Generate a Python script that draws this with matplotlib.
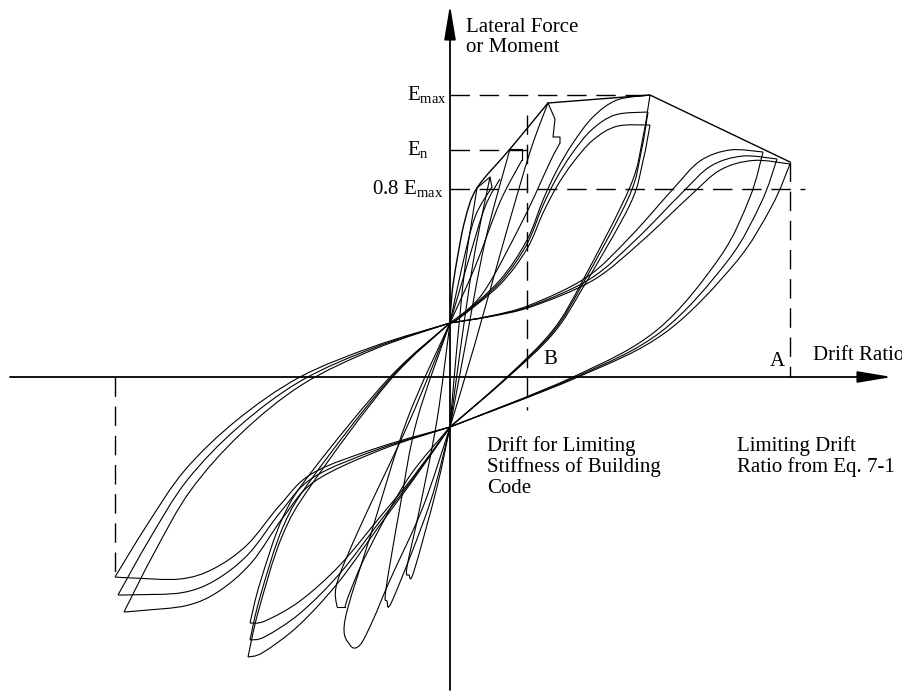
import numpy as np
import matplotlib.pyplot as plt
from matplotlib.path import Path
from matplotlib.patches import PathPatch

plt.rcParams['font.family'] = ['Liberation Serif', 'DejaVu Serif']
plt.rcParams['mathtext.fontset'] = 'custom'
plt.rcParams['mathtext.rm'] = 'Liberation Serif'

# reference levels (schematic units, origin at the axis crossing)
e_max = 282
e_n = 227
e_08 = 188
drift_b = 77
drift_a = 340
drift_neg = -335

# pinch points on the force axis
pinch_up = (0, 54)
pinch_low = (0, -50)

# large cycles up to limiting drift A (branches listed from the pinch to the peak)
big_pos_lower = [(0, -50), (123, 0), (207, 47), (270, 120), (300, 180), (313, 225)]
big_pos_upper = [(0, 54), (40, 61), (80, 72), (137, 100), (180, 140), (223, 188), (250, 216), (280, 227), (313, 225)]
big_neg_upper = [(0, 54), (-75, 31), (-150, 0), (-213, -43), (-265, -93), (-303, -148), (-335, -200)]
big_neg_lower = [(0, -50), (-70, -70), (-137, -96), (-170, -128), (-203, -168), (-237, -192),
                 (-270, -202), (-317, -201), (-335, -200)]
big_pos_copies = [(0, 0), (14, -7), (27, -12)]
big_neg_copies = [(0, 0), (3, -18), (9, -35)]

# medium cycles up to E_max
mid_pos_lower = [(0, -50), (57, 0), (103, 47), (133, 97), (180, 190), (193, 240), (200, 282)]
mid_pos_upper = [(0, 54), (10, 60), (50, 97), (77, 137), (93, 177), (107, 207), (123, 234), (143, 260),
                 (167, 277), (200, 282)]
mid_neg_upper = [(0, 54), (-60, 0), (-137, -93), (-167, -140), (-190, -206), (-200, -246)]
mid_neg_lower = [(0, -50), (-37, -100), (-70, -140), (-110, -188), (-150, -224), (-185, -244), (-200, -246)]
mid_pos_copies = [(0, 0), (-2, -17), (0, -30)]
mid_neg_copies = [(0, 0), (0, -17), (-2, -34)]

# envelope
backbone = [(0, 54), (2, 84), (7, 117), (15, 157), (27, 189), (60, 228), (98, 274)]
envelope = [(98, 274), (200, 282), (340, 215)]

# small positive cycles
small_pos_lower = [
    [(0, -50), (6, 20), (15, 110), (27, 189)],
    [(0, -50), (10, 25), (24, 120), (40, 200)],
    [(0, -50), (15, 30), (35, 135), (60, 228)],
    [(0, -50), (24, 30), (55, 140), (80, 225), (98, 274)],
]
small_pos_upper = [
    [(0, 54), (12, 110), (25, 160), (42, 190)],
    [(0, 54), (18, 115), (35, 170), (50, 198)],
    [(0, 54), (25, 110), (50, 175), (72, 217)],
    [(0, 54), (33, 84), (73, 157), (100, 215), (110, 234)],
]
small_pos_hooks = [
    [(27, 189), (40, 200), (42, 190)],
    [(60, 228), (72, 228), (72, 217)],
    [(98, 274), (105, 258), (103, 240), (110, 240), (110, 234)],
]

# small negative cycles
small_neg = [
    [(0, 54), (-13, -43), (-30, -130), (-43, -190), (-41, -198), (-36, -194), (-13, -110), (0, -50)],
    [(0, 54), (-33, -43), (-50, -130), (-64, -212), (-63, -224), (-57, -222), (-20, -126), (0, -50)],
    [(0, 54), (-43, -43), (-80, -160), (-105, -243), (-100, -268), (-90, -268), (-77, -243),
     (-60, -203), (-27, -130), (0, -50)],
    [(0, 54), (-40, -43), (-90, -150), (-113, -206), (-113, -230)],
    [(-105, -230), (-100, -215), (-83, -176), (-43, -103), (0, -50)],
]
small_neg_corner = [(-113, -230), (-105, -230)]


def smooth(pts):
    # Catmull-Rom through the points, drawn as cubic bezier pieces
    p = np.asarray(pts, float)
    verts = [p[0]]
    codes = [Path.MOVETO]
    for i in range(len(p) - 1):
        a = p[max(i - 1, 0)]
        b = p[i]
        c = p[i + 1]
        d = p[min(i + 2, len(p) - 1)]
        verts += [b + (c - a) / 6, c - (d - b) / 6, c]
        codes += [Path.CURVE4] * 3
    return Path(verts, codes)


def shifted(pts, off, power):
    # move the peak end of a branch, the pinch end stays put
    p = np.asarray(pts, float)
    seg = np.r_[0, np.cumsum(np.hypot(*np.diff(p, axis=0).T))]
    w = (seg / seg[-1]) ** power
    return p + w[:, None] * np.asarray(off, float)


def curve(ax, pts, lw=0.8):
    ax.add_patch(PathPatch(smooth(pts), fill=False, lw=lw, color='black'))


fig = plt.figure(figsize=(9.03, 6.94), dpi=100)
ax = fig.add_axes([0, 0, 1, 1])
ax.set_xlim(-450, 453)
ax.set_ylim(-317, 377)
ax.axis('off')

# axes with arrows
arrow = dict(arrowstyle='-|>,head_length=1.5,head_width=0.25', mutation_scale=14,
             lw=1.3, color='black', shrinkA=0, shrinkB=0)
ax.annotate('', xy=(442, 0), xytext=(-440, 0), arrowprops=arrow)
ax.annotate('', xy=(0, 372), xytext=(0, -313), arrowprops=arrow)

# dashed guide lines
dash = dict(color='black', lw=1.0, dashes=(14, 7))
ax.plot([0, 200], [e_max, e_max], **dash)
ax.plot([0, drift_b], [e_n, e_n], **dash)
ax.plot([0, 355], [e_08, e_08], **dash)
ax.plot([drift_b, drift_b], [262, -33], **dash)
ax.plot([drift_a, drift_a], [215, 0], **dash)
ax.plot([drift_neg, drift_neg], [0, -200], **dash)

# large and medium cycles, three repeats each
for off in big_pos_copies:
    curve(ax, shifted(big_pos_lower, off, 2))
    curve(ax, shifted(big_pos_upper, off, 1.5))
for off in big_neg_copies:
    curve(ax, shifted(big_neg_upper, off, 1.5))
    curve(ax, shifted(big_neg_lower, off, 1.5))
for off in mid_pos_copies:
    curve(ax, shifted(mid_pos_lower, off, 2))
    curve(ax, shifted(mid_pos_upper, off, 1.2))
for off in mid_neg_copies:
    curve(ax, shifted(mid_neg_upper, off, 1.5))
    curve(ax, shifted(mid_neg_lower, off, 1.5))

# small cycles
for pts in small_pos_lower + small_pos_upper + small_neg:
    curve(ax, pts)
for pts in small_pos_hooks + [small_neg_corner]:
    xs, ys = zip(*pts)
    ax.plot(xs, ys, color='black', lw=0.8)

curve(ax, backbone, lw=1.0)
xs, ys = zip(*envelope)
ax.plot(xs, ys, color='black', lw=1.0)

# labels
fs = 15
ax.text(16, 359, 'Lateral Force\nor Moment', fontsize=fs, ha='left', va='top', linespacing=1.1)
ax.text(-43, e_max, r'E$_{\rm max}$', fontsize=fs, ha='left', va='center')
ax.text(-43, e_n, r'E$_{\rm n}$', fontsize=fs, ha='left', va='center')
ax.text(-7, e_08, r'0.8 E$_{\rm max}$', fontsize=fs, ha='right', va='center')
ax.text(363, 22, 'Drift Ratio', fontsize=fs, ha='left', va='center')
ax.text(327, 16, 'A', fontsize=fs, ha='center', va='center')
ax.text(100, 17, 'B', fontsize=fs, ha='center', va='center')
ax.text(37, -59, 'Drift for Limiting\nStiffness of Building\nCode', fontsize=fs, ha='left', va='top',
        linespacing=1.1)
ax.text(287, -59, 'Limiting Drift\nRatio from Eq. 7-1', fontsize=fs, ha='left', va='top', linespacing=1.1)

fig.savefig('out.png', dpi=100)
